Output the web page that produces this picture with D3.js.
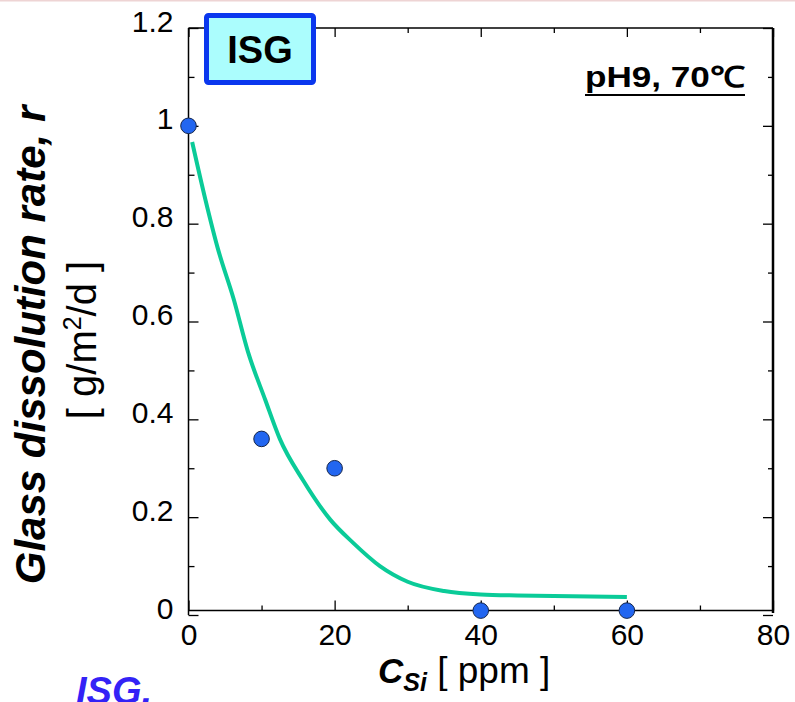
<!DOCTYPE html>
<html>
<head>
<meta charset="utf-8">
<script src="https://cdn.jsdelivr.net/npm/d3@7"></script>
<style>
	body { margin: 0; background: #fff; }
	svg { display: block; font-family: "Liberation Sans", Arial, Helvetica, sans-serif; }
</style>
</head>
<body>
<div id="chart"></div>
<script>
// measured points
var pointX = [0, 10, 20, 40, 60];
var pointY = [1.0, 0.36, 0.30, 0.009, 0.009];

// fitted curve
var fitX = [0.5, 2.3, 4, 6.2, 8.1, 10.5, 12.5, 15.7, 19.4, 22.5, 26.2, 30, 35, 40, 45, 50, 55, 60];
var fitY = [0.967, 0.85, 0.75, 0.645, 0.54, 0.44, 0.36, 0.275, 0.195, 0.148, 0.1, 0.068, 0.049, 0.042, 0.04, 0.039, 0.038, 0.037];

var xTicks = [0, 20, 40, 60, 80];
var xMinor = [10, 30, 50, 70];
var yTicks = [0, 0.2, 0.4, 0.6, 0.8, 1, 1.2];
var yMinor = [0.1, 0.3, 0.5, 0.7, 0.9, 1.1];

function drawChart() {
	var W = 795, H = 702;
	var plot = { left: 188.5, right: 773, top: 28, bottom: 615 };

	var svg = d3.select("#chart").append("svg")
		.attr("width", W)
		.attr("height", H);

	var x = d3.scaleLinear().domain([0, 80]).range([plot.left, plot.right]);
	var y = d3.scaleLinear().domain([0, 1.2]).range([plot.bottom, plot.top]);
	var frameBottom = plot.bottom - 4.5;

	// faint line along the very top
	svg.append("line")
		.attr("x1", 0).attr("x2", W).attr("y1", 0.75).attr("y2", 0.75)
		.attr("stroke", "#eed4d4").attr("stroke-width", 1.5);

	var fmt = d3.format("~g");

	// left axis
	var gLeft = svg.append("g").attr("transform", "translate(" + plot.left + ",0)");
	gLeft.call(d3.axisLeft(y).tickValues(yTicks).tickSize(-10).tickPadding(15).tickFormat(fmt));
	gLeft.append("g").call(d3.axisLeft(y).tickValues(yMinor).tickSize(-6).tickFormat(""));
	gLeft.selectAll(".domain").remove();
	gLeft.selectAll("text").attr("font-size", 30).attr("fill", "#000").attr("font-family", null).attr("dy", "0.1em");
	gLeft.selectAll("line").attr("stroke", "#000").attr("stroke-width", 1.3);
	gLeft.append("line").attr("x1", 0).attr("x2", 0).attr("y1", plot.top).attr("y2", plot.bottom)
		.attr("stroke", "#000").attr("stroke-width", 1.5);

	// right axis
	var gRight = svg.append("g").attr("transform", "translate(" + plot.right + ",0)");
	gRight.call(d3.axisRight(y).tickValues(yTicks).tickSize(-10).tickFormat(""));
	gRight.append("g").call(d3.axisRight(y).tickValues(yMinor).tickSize(-5).tickFormat(""));
	gRight.selectAll(".domain").remove();
	gRight.selectAll("line").attr("stroke", "#000").attr("stroke-width", 1.3);
	gRight.append("line").attr("x1", 0).attr("x2", 0).attr("y1", plot.top).attr("y2", plot.bottom - 2)
		.attr("stroke", "#000").attr("stroke-width", 2.5);

	// bottom axis
	var gBottom = svg.append("g").attr("transform", "translate(0," + frameBottom + ")");
	gBottom.call(d3.axisBottom(x).tickValues(xTicks).tickSize(-10).tickPadding(13).tickFormat(fmt));
	gBottom.append("g").call(d3.axisBottom(x).tickValues(xMinor).tickSize(-5).tickFormat(""));
	gBottom.selectAll(".domain").remove();
	gBottom.selectAll("text").attr("font-size", 30).attr("fill", "#000").attr("font-family", null);
	gBottom.selectAll("line").attr("stroke", "#000").attr("stroke-width", 1.3);
	gBottom.append("line").attr("x1", plot.left).attr("x2", plot.right).attr("y1", 0).attr("y2", 0)
		.attr("stroke", "#000").attr("stroke-width", 1.6);

	// top axis
	var gTop = svg.append("g").attr("transform", "translate(0," + plot.top + ")");
	gTop.call(d3.axisTop(x).tickValues(xTicks).tickSize(-9).tickFormat(""));
	gTop.append("g").call(d3.axisTop(x).tickValues(xMinor).tickSize(-5).tickFormat(""));
	gTop.selectAll(".domain").remove();
	gTop.selectAll("line").attr("stroke", "#000").attr("stroke-width", 1.3);
	gTop.append("line").attr("x1", plot.left).attr("x2", plot.right).attr("y1", 0).attr("y2", 0)
		.attr("stroke", "#000").attr("stroke-width", 1.6);

	// fit curve
	var fit = fitX.map(function(d, i) { return [d, fitY[i]]; });
	svg.append("path")
		.datum(fit)
		.attr("fill", "none")
		.attr("stroke", "#0acb98")
		.attr("stroke-width", 4)
		.attr("d", d3.line().x(function(d) { return x(d[0]); }).y(function(d) { return y(d[1]); }).curve(d3.curveMonotoneX));

	// points
	svg.selectAll(".pt")
		.data(pointX.map(function(d, i) { return [d, pointY[i]]; }))
		.enter().append("circle")
		.attr("class", "pt")
		.attr("cx", function(d) { return x(d[0]); })
		.attr("cy", function(d) { return y(d[1]); })
		.attr("r", 7.8)
		.attr("fill", "#2266f0")
		.attr("stroke", "#16264a")
		.attr("stroke-width", 1);

	// ISG box
	svg.append("rect")
		.attr("x", 206.5).attr("y", 15.5).attr("width", 107).attr("height", 67).attr("rx", 2)
		.attr("fill", "#abfdfd").attr("stroke", "#0a37ee").attr("stroke-width", 5);
	svg.append("text")
		.attr("x", 260).attr("y", 63)
		.attr("text-anchor", "middle")
		.attr("font-size", 38).attr("font-weight", "bold")
		.text("ISG");

	// condition label
	svg.append("text")
		.attr("x", 585).attr("y", 87)
		.attr("font-size", 29).attr("font-weight", "bold")
		.attr("textLength", 160).attr("lengthAdjust", "spacingAndGlyphs")
		.text("pH9, 70℃");
	svg.append("line")
		.attr("x1", 585).attr("x2", 745).attr("y1", 95).attr("y2", 95)
		.attr("stroke", "#000").attr("stroke-width", 2.2);

	// y axis title
	svg.append("g").attr("transform", "translate(45,345) rotate(-90)")
		.append("text")
		.attr("text-anchor", "middle")
		.attr("font-size", 42).attr("font-weight", "bold").attr("font-style", "italic")
		.text("Glass dissolution rate, r");
	var yt2 = svg.append("g").attr("transform", "translate(96,340) rotate(-90)")
		.append("text").attr("text-anchor", "middle").attr("font-size", 40);
	yt2.append("tspan").text("[ g/m");
	yt2.append("tspan").attr("font-size", 25).attr("dy", -15).text("2");
	yt2.append("tspan").attr("dy", 15).text("/d ]");

	// x axis title
	var xt = svg.append("text").attr("x", 378).attr("y", 683).attr("font-size", 37);
	xt.append("tspan").attr("font-weight", "bold").attr("font-style", "italic").attr("font-size", 35).text("C");
	xt.append("tspan").attr("font-weight", "bold").attr("font-style", "italic")
		.attr("font-size", 25).attr("dy", 8).text("Si");
	xt.append("tspan").attr("dy", -8).text(" [ ppm ]");

	// cut-off caption at the bottom
	svg.append("text")
		.attr("x", 76).attr("y", 704)
		.attr("font-size", 38).attr("font-weight", "bold").attr("font-style", "italic")
		.attr("fill", "#3322f6")
		.text("ISG,");
}

drawChart();
</script>
</body>
</html>
